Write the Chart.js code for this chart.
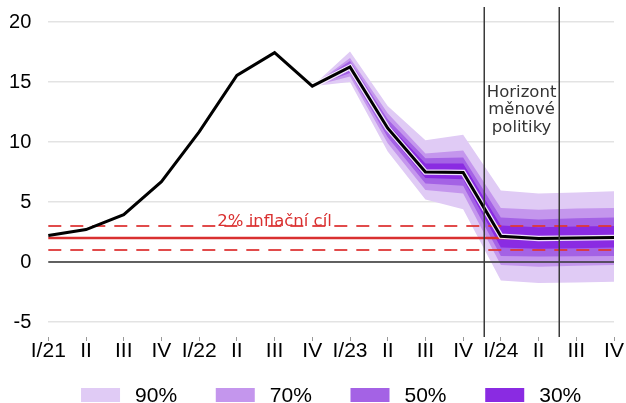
<!DOCTYPE html>
<html>
<head>
<meta charset="utf-8">
<script src="https://cdn.jsdelivr.net/npm/chart.js@4.4.1/dist/chart.umd.min.js"></script>
<style>
  html, body { margin: 0; padding: 0; background: #fff; }
  #wrap { width: 626px; height: 403px; }
</style>
</head>
<body>
<div id="wrap"><canvas id="c" width="626" height="403"></canvas></div>
<script>
// Quarterly labels and axis ticks
const QUARTERS = ['I/21','II','III','IV','I/22','II','III','IV','I/23','II','III','IV','I/24','II','III','IV'];
const Y_TICKS = [-5, 0, 5, 10, 15, 20];

// Headline inflation (%, y/y): outturn to IV/22, forecast afterwards
const INFLATION = [2.2, 2.7, 3.95, 6.7, 10.85, 15.55, 17.45, 14.65, 16.25, 11.15, 7.5, 7.45, 2.15, 1.95, 2.0, 2.05];
const FORECAST_START = 7;

// Confidence bands of the forecast (upper / lower bound)
const N = null;
const BAND90_HI = [N,N,N,N,N,N,N,14.65,17.55,13.0,10.15,10.6, 5.95, 5.7, 5.8, 5.9];
const BAND70_HI = [N,N,N,N,N,N,N,14.65,17.0, 12.4, 9.05, 9.3, 4.5, 4.35, 4.45, 4.5];
const BAND50_HI = [N,N,N,N,N,N,N,14.65,16.75,11.9, 8.65, 8.7, 3.7, 3.55, 3.65, 3.7];
const BAND30_HI = [N,N,N,N,N,N,N,14.65,16.5, 11.5, 8.2, 8.2, 3.05, 2.9, 2.95, 3.0];
const BAND30_LO = [N,N,N,N,N,N,N,14.65,16.0, 10.8, 7.0, 6.9, 1.2, 1.1, 1.15, 1.2];
const BAND50_LO = [N,N,N,N,N,N,N,14.65,15.75,10.4, 6.55, 6.35, 0.5, 0.45, 0.48, 0.5];
const BAND70_LO = [N,N,N,N,N,N,N,14.65,15.45,9.9, 6.0, 5.7, -0.25,-0.4,-0.32,-0.25];
const BAND90_LO = [N,N,N,N,N,N,N,14.65,15.0, 9.2, 5.2, 4.4, -1.55,-1.75,-1.7,-1.65];

const LEGEND_LABELS = ['90%', '70%', '50%', '30%'];
const BAND_COLORS = ['#e0cbf5', '#c496ed', '#a462e5', '#8a2be2'];

// Inflation target and tolerance band
const TARGET = 2;
const TOLERANCE_HI = 3;
const TOLERANCE_LO = 1;
const TARGET_LABEL = '2% inflační cíl';
const TARGET_LABEL_AT = 6;

// Monetary policy horizon (position on the quarter axis)
const HORIZON = [11.55, 13.55];
const HORIZON_LABEL = ['Horizont', 'měnové', 'politiky'];

const flat = v => QUARTERS.map(() => v);
const RED = '#d93030';

function band(lo, hi, loIdx, color, order) {
  return [
    { data: lo, borderColor: 'transparent', borderWidth: 0, pointRadius: 0, fill: false, order: order },
    { data: hi, borderColor: 'transparent', borderWidth: 0, pointRadius: 0, fill: loIdx, backgroundColor: color, order: order }
  ];
}

const datasets = [
  // 0: inflation line
  { data: INFLATION, borderColor: '#000', borderWidth: 3, pointRadius: 0, fill: false, tension: 0, order: 0, borderJoinStyle: 'miter' },
  // 1: light halo under the forecast part of the line
  { data: INFLATION.map((v, i) => i >= FORECAST_START ? v : null), borderColor: 'rgba(255,255,255,0.85)', borderWidth: 5.5, pointRadius: 0, fill: false, order: 1 },
  // 2: zero line
  { data: flat(0), borderColor: '#333', borderWidth: 1.5, pointRadius: 0, fill: false, order: 2 },
  // 3-5: target and tolerance band
  { data: flat(TARGET), borderColor: RED, borderWidth: 2.5, pointRadius: 0, fill: false, order: 2 },
  { data: flat(TOLERANCE_HI), borderColor: 'rgba(222,55,55,0.9)', borderWidth: 1.8, borderDash: [13, 9], pointRadius: 0, fill: false, order: 2 },
  { data: flat(TOLERANCE_LO), borderColor: 'rgba(222,55,55,0.9)', borderWidth: 1.8, borderDash: [13, 9], pointRadius: 0, fill: false, order: 2 },
  // 6-13: fan
  ...band(BAND30_LO, BAND30_HI, 6, BAND_COLORS[3], 3),
  ...band(BAND50_LO, BAND50_HI, 8, BAND_COLORS[2], 4),
  ...band(BAND70_LO, BAND70_HI, 10, BAND_COLORS[1], 5),
  ...band(BAND90_LO, BAND90_HI, 12, BAND_COLORS[0], 6)
];

// Horizon lines and text labels
const annotations = {
  id: 'annotations',
  afterDatasetsDraw(chart) {
    const { ctx, chartArea: a, scales: { x, y } } = chart;
    ctx.save();
    ctx.strokeStyle = '#3a3a3a';
    ctx.lineWidth = 1.5;
    HORIZON.forEach(v => {
      const px = Math.round(x.getPixelForValue(v)) + 0.25;
      ctx.beginPath();
      ctx.moveTo(px, a.top);
      ctx.lineTo(px, a.bottom);
      ctx.stroke();
    });
    ctx.font = '16.5px "DejaVu Sans", sans-serif';
    ctx.textAlign = 'center';
    ctx.textBaseline = 'alphabetic';
    ctx.fillStyle = '#333';
    const hx = (x.getPixelForValue(HORIZON[0]) + x.getPixelForValue(HORIZON[1])) / 2;
    HORIZON_LABEL.forEach((t, i) => ctx.fillText(t, hx, 96.5 + i * 17.5));
    ctx.fillStyle = RED;
    ctx.fillText(TARGET_LABEL, x.getPixelForValue(TARGET_LABEL_AT), y.getPixelForValue(TOLERANCE_HI) - 0.5);
    ctx.restore();
  }
};

// Legend centred under the plot area
const fanLegend = {
  id: 'fanLegend',
  afterDraw(chart) {
    const { ctx, chartArea: a } = chart;
    ctx.save();
    ctx.font = '21px "Liberation Sans", Arial, sans-serif';
    const box = 39, gapText = 15, gapItem = 38.7;
    const widths = LEGEND_LABELS.map(t => box + gapText + ctx.measureText(t).width);
    const total = widths.reduce((s, w) => s + w, 0) + gapItem * (widths.length - 1);
    let cx = (a.left + a.right) / 2 - total / 2;
    ctx.textBaseline = 'alphabetic';
    LEGEND_LABELS.forEach((t, i) => {
      ctx.fillStyle = BAND_COLORS[i];
      ctx.fillRect(cx, 388, box, 14);
      ctx.fillStyle = '#000';
      ctx.fillText(t, cx + box + gapText, 402);
      cx += widths[i] + gapItem;
    });
    ctx.restore();
  }
};

new Chart(document.getElementById('c'), {
  type: 'line',
  data: { labels: QUARTERS, datasets: datasets },
  options: {
    responsive: false,
    animation: false,
    devicePixelRatio: 1,
    layout: { padding: { top: 7, right: 12, left: 0, bottom: 0 } },
    plugins: { legend: { display: false }, tooltip: { enabled: false } },
    elements: { line: { tension: 0 } },
    scales: {
      x: {
        type: 'category',
        offset: false,
        border: { display: false },
        grid: { drawOnChartArea: false, drawTicks: true, tickLength: 4, color: '#999', lineWidth: 1 },
        ticks: {
          autoSkip: false, maxRotation: 0, padding: 0, color: '#000',
          font: { family: '"Liberation Sans Narrow", "Arial Narrow", "Liberation Sans", Arial, sans-serif', size: 21, lineHeight: 1 }
        },
        afterFit: s => { s.height = 66; }
      },
      y: {
        min: -6.25, max: 21.25,
        border: { display: false },
        grid: { color: '#e3e3e3', lineWidth: 1.5, drawTicks: true, tickLength: 17, tickColor: 'transparent' },
        ticks: { padding: 0, color: '#000', font: { family: '"Liberation Sans", Arial, sans-serif', size: 20, lineHeight: 0.6 } },
        afterBuildTicks: s => { s.ticks = Y_TICKS.map(v => ({ value: v })); },
        afterFit: s => { s.width = 48.3; }
      }
    }
  },
  plugins: [annotations, fanLegend]
});
</script>
</body>
</html>
